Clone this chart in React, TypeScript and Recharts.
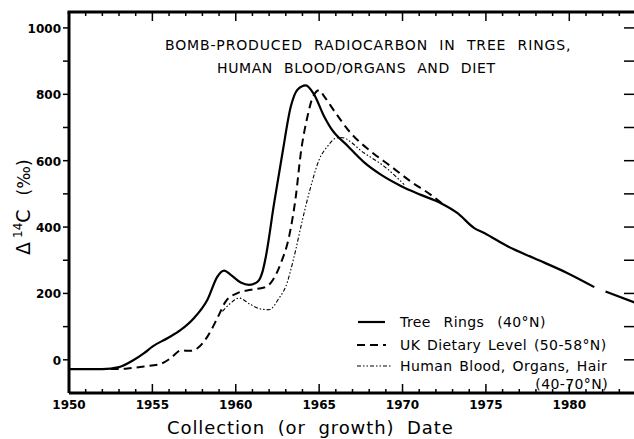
import { LineChart, Line, XAxis, YAxis } from "recharts";

// Tree rings (40°N), solid
const treeYears = [1950, 1952, 1953, 1953.9, 1954.5, 1955, 1955.9, 1956.7, 1957.5, 1958.3, 1958.9, 1959.3, 1959.7, 1960.3, 1960.8, 1961.3, 1961.6, 1961.8, 1962.3, 1962.8, 1963.3, 1963.7, 1964.2, 1964.7, 1965.3, 1965.7, 1966.7, 1967.7, 1968.7, 1969.9, 1971.1, 1972.3, 1973.3, 1974.3, 1974.9, 1976.3, 1977.9, 1979.9, 1981.5];
const treeValues = [-28, -28, -22, 0, 20, 40, 65, 90, 126, 181, 251, 269, 256, 233, 226, 235, 265, 310, 472, 623, 763, 814, 827, 799, 733, 698, 645, 595, 558, 524, 497, 472, 442, 397, 382, 342, 306, 261, 219];

// extrapolated tail of tree-ring curve
const tailYears = [1981.5, 1984];
const tailValues = [219, 171];

// UK dietary level (50-58°N), dashed
const dietYears = [1952.5, 1953.5, 1954.5, 1955.5, 1956.1, 1956.7, 1957.3, 1957.7, 1958.3, 1958.9, 1959.4, 1960.1, 1960.9, 1961.7, 1962.1, 1962.7, 1963.2, 1963.6, 1963.9, 1964.3, 1964.6, 1965.0, 1965.3, 1965.9, 1966.9, 1968.1, 1969.3, 1970.5, 1971.7, 1972.6];
const dietValues = [-28, -26, -20, -12, 5, 28, 27, 35, 70, 126, 176, 201, 211, 218, 232, 291, 372, 492, 623, 733, 789, 812, 794, 750, 683, 628, 583, 537, 497, 462];

// Human blood, organs, hair (40-70°N), dash-dot
const bloodYears = [1959.2, 1959.7, 1960.2, 1960.9, 1961.5, 1962.0, 1962.6, 1963.0, 1963.5, 1964.0, 1964.5, 1965.0, 1965.5, 1966.0, 1966.3, 1967.7, 1968.9, 1970.1];
const bloodValues = [146, 171, 186, 166, 153, 151, 186, 221, 311, 422, 522, 603, 643, 668, 670, 623, 583, 528];

const xTicks = [1950, 1951, 1952, 1953, 1954, 1955, 1956, 1957, 1958, 1959, 1960, 1961, 1962, 1963, 1964, 1965, 1966, 1967, 1968, 1969, 1970, 1971, 1972, 1973, 1974, 1975, 1976, 1977, 1978, 1979, 1980, 1981, 1982, 1983];
const xLabels = [1950, 1955, 1960, 1965, 1970, 1975, 1980];
const yTicks = [0, 100, 200, 300, 400, 500, 600, 700, 800, 900, 1000];
const yLabels = [0, 200, 400, 600, 800, 1000];

const titleLines = ["BOMB-PRODUCED RADIOCARBON IN TREE RINGS,", "HUMAN BLOOD/ORGANS AND DIET"];
const legendNames = ["Tree Rings (40°N)", "UK Dietary Level (50-58°N)", "Human Blood, Organs, Hair"];
const legendExtra = "(40-70°N)";

const FONT = "'DejaVu Sans', sans-serif";
const dietDash = "8 5";
const bloodDash = "4 2 1.5 2 1.5 2";
const X_DOMAIN: [number, number] = [1950, 1984];
const Y_DOMAIN: [number, number] = [-100, 1048];
const frame = { stroke: "#000", strokeWidth: 3 };

// chart layout (plot box follows from these)
const CHART_W = 640;
const CHART_H = 439;
const MARGIN = { top: 12, right: 4, bottom: 0, left: 0 };
const Y_AXIS_W = 69;
const X_AXIS_H = 46;
const PLOT_LEFT = MARGIN.left + Y_AXIS_W;
const PLOT_RIGHT = CHART_W - MARGIN.right;
const PLOT_TOP = MARGIN.top;
const PLOT_BOTTOM = CHART_H - MARGIN.bottom - X_AXIS_H;

// same linear mapping as the axes, used for the inward frame ticks only
const xPix = (t: number) => PLOT_LEFT + ((t - X_DOMAIN[0]) / (X_DOMAIN[1] - X_DOMAIN[0])) * (PLOT_RIGHT - PLOT_LEFT);
const yPix = (v: number) => PLOT_BOTTOM - ((v - Y_DOMAIN[0]) / (Y_DOMAIN[1] - Y_DOMAIN[0])) * (PLOT_BOTTOM - PLOT_TOP);
const tickLen = (t: number) => (xLabels.includes(t) ? 9 : 4);

const toPoints = (xs: number[], ys: number[]) => xs.map((year, i) => ({ year, value: ys[i] }));

const BottomLabel = (props: any) => {
  const { x, y, payload } = props;
  return (
    <text x={x} y={y + 16} textAnchor="middle" fontSize={12} fontWeight="bold" fontFamily={FONT} fill="#000">
      {payload.value}
    </text>
  );
};

const LeftLabel = (props: any) => {
  const { x, y, payload } = props;
  if (!yLabels.includes(payload.value)) return <g />;
  return (
    <text x={x} y={y + 5} textAnchor="end" fontSize={12} fontWeight="bold" fontFamily={FONT} fill="#000">
      {payload.value}
    </text>
  );
};

export default function App() {
  return (
    <div style={{ position: "absolute", left: 0, top: 0, width: 634, height: 439, overflow: "hidden", background: "#fff" }}>
      <LineChart width={CHART_W} height={CHART_H} margin={MARGIN}>
        <XAxis dataKey="year" type="number" domain={X_DOMAIN} ticks={xLabels} interval={0}
          height={X_AXIS_H} tickSize={0} tickMargin={0} tickLine={false} tick={BottomLabel} axisLine={frame} />
        <YAxis type="number" domain={Y_DOMAIN} ticks={yTicks} interval={0}
          width={Y_AXIS_W} tickSize={6} tickMargin={2} tickLine={{ stroke: "#000", strokeWidth: 1.5 }} tick={LeftLabel} axisLine={frame} />

        <Line data={toPoints(bloodYears, bloodValues)} dataKey="value" type="monotone"
          stroke="#000" strokeWidth={1.1} strokeDasharray={bloodDash} dot={false} isAnimationActive={false} />
        <Line data={toPoints(dietYears, dietValues)} dataKey="value" type="monotone"
          stroke="#000" strokeWidth={2} strokeDasharray={dietDash} dot={false} isAnimationActive={false} />
        <Line data={toPoints(treeYears, treeValues)} dataKey="value" type="monotone"
          stroke="#000" strokeWidth={2.2} dot={false} isAnimationActive={false} />
        <Line data={toPoints(tailYears, tailValues)} dataKey="value" type="linear"
          stroke="#000" strokeWidth={2.2} strokeDasharray="0 12 60 0" dot={false} isAnimationActive={false} />
      </LineChart>

      <svg width={634} height={439} style={{ position: "absolute", left: 0, top: 0, pointerEvents: "none" }}>
        <g fontFamily={FONT} fill="#000">
          {/* frame: top border and inward ticks */}
          <line x1={PLOT_LEFT - 1.5} x2={634} y1={PLOT_TOP} y2={PLOT_TOP} stroke="#000" strokeWidth={3} />
          {xTicks.map((t) => (
            <line key={"b" + t} x1={xPix(t)} x2={xPix(t)} y1={PLOT_BOTTOM} y2={PLOT_BOTTOM - tickLen(t)} stroke="#000" strokeWidth={1.5} />
          ))}
          {xTicks.map((t) => (
            <line key={"t" + t} x1={xPix(t)} x2={xPix(t)} y1={PLOT_TOP} y2={PLOT_TOP + tickLen(t)} stroke="#000" strokeWidth={1.5} />
          ))}
          {yTicks.map((v) => (
            <line key={"r" + v} x1={PLOT_RIGHT - 12} x2={634} y1={yPix(v)} y2={yPix(v)} stroke="#000" strokeWidth={1.5} />
          ))}

          <text x={165} y={50} fontSize={14} letterSpacing={0.85} wordSpacing={6}>{titleLines[0]}</text>
          <text x={217} y={73} fontSize={14} letterSpacing={0.6} wordSpacing={6}>{titleLines[1]}</text>

          <text x={167} y={434} fontSize={18} letterSpacing={0.9} wordSpacing={6}>Collection (or growth) Date</text>

          <text transform="translate(30,255) rotate(-90)" fontSize={19}>
            Δ<tspan dx={4} dy={-8} fontSize={12}>14</tspan><tspan dy={8}>C</tspan><tspan dx={14} fontSize={17}>(‰)</tspan>
          </text>

          <line x1={358} x2={385} y1={322} y2={322} stroke="#000" strokeWidth={2.2} />
          <text x={400} y={327} fontSize={14} letterSpacing={0.4} wordSpacing={8}>{legendNames[0]}</text>
          <line x1={357} x2={386} y1={345} y2={345} stroke="#000" strokeWidth={2} strokeDasharray={dietDash} />
          <text x={400} y={350} fontSize={14} letterSpacing={0.4} wordSpacing={2}>{legendNames[1]}</text>
          <line x1={357} x2={392} y1={366} y2={366} stroke="#000" strokeWidth={1.1} strokeDasharray={bloodDash} />
          <text x={400} y={371} fontSize={14} letterSpacing={0.4} wordSpacing={2}>{legendNames[2]}</text>
          <text x={608} y={389} fontSize={14} letterSpacing={0.4} textAnchor="end">{legendExtra}</text>
        </g>
      </svg>
    </div>
  );
}
